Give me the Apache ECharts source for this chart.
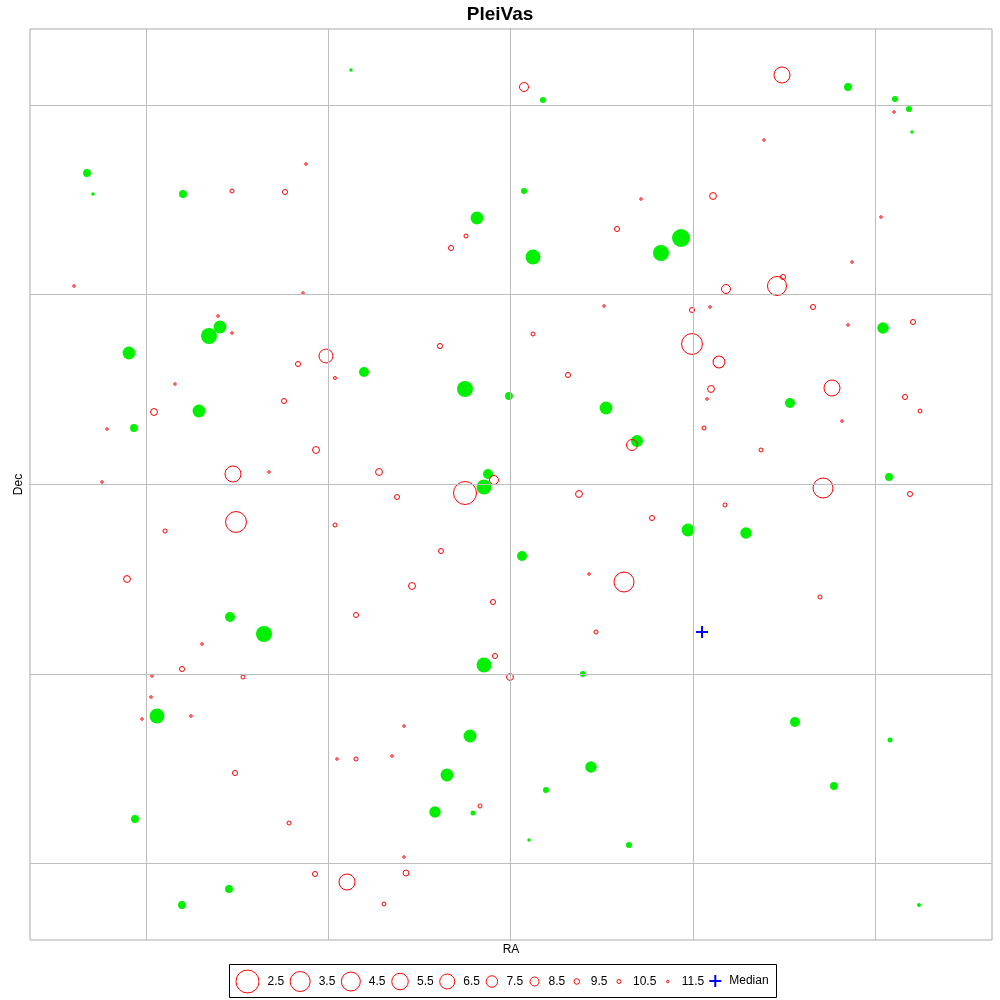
<!DOCTYPE html>
<html>
<head>
<meta charset="utf-8">
<title>PleiVas</title>
<script src="https://cdn.jsdelivr.net/npm/echarts@6/dist/echarts.min.js"></script>
<style>
  html, body { margin: 0; padding: 0; background: #fff; }
  #chart { width: 1000px; height: 1000px; }
</style>
</head>
<body>
<div id="chart"></div>
<script>
// star positions: [RA offset, Dec offset, magnitude]
// red open circles
var fieldStars = [
  [272, 409, 5.8], [14, 397, 8.5], [384, 372, 11.5], [254, 344, 11.5], [-204, 320, 11.5],
  [-278, 293, 10.5], [-225, 292, 9.8], [203, 288, 9.1], [131, 285, 11.5], [371, 267, 11.5],
  [107, 255, 9.8], [-44, 248, 10.5], [-59, 236, 9.8], [342, 222, 11.5], [273, 207, 9.8],
  [-436, 198, 11.5], [267, 198, 4.5], [216, 195, 8.5], [-207, 191, 11.5], [303, 177, 9.8],
  [94, 178, 11.5], [182, 174, 9.8], [200, 177, 11.5], [-292, 168, 11.5], [403, 162, 9.8],
  [338, 159, 11.5], [-278, 151, 11.5], [23, 150, 10.5], [182, 140, 3.2], [-70, 138, 9.8],
  [-184, 128, 6.8], [209, 122, 7.4], [-212, 120, 9.8], [58, 109, 9.8], [-175, 106, 11.2],
  [-335, 100, 11.5], [322, 96, 5.8], [201, 95, 9.1], [395, 87, 9.8], [-226, 83, 9.8],
  [197, 85, 11.5], [-356, 72, 9.1], [410, 73, 10.5], [332, 63, 11.5], [-403, 55, 11.5],
  [194, 56, 10.5], [122, 39, 7.7], [-194, 34, 9.1], [251, 34, 10.5], [-277, 10, 5.8],
  [-241, 12, 11.5], [-131, 12, 9.1], [-16, 4, 8.5], [-408, 2, 11.5], [-45, -9, 2.5],
  [313, -4, 3.5], [69, -10, 9.1], [-113, -13, 9.8], [400, -10, 9.8], [215, -21, 10.5],
  [142, -34, 9.8], [-274, -38, 3.2], [-175, -41, 10.5], [-345, -47, 10.5], [-69, -67, 9.8],
  [79, -90, 11.5], [-383, -95, 9.1], [114, -98, 3.5], [-98, -102, 9.1], [310, -113, 10.5],
  [-17, -118, 9.8], [-154, -131, 9.8], [86, -148, 10.5], [-308, -160, 11.5], [-15, -172, 9.8],
  [-328, -185, 9.8], [-358, -192, 11.5], [-267, -193, 10.5], [0, -193, 9.1], [-359, -213, 11.5],
  [-368, -235, 11.5], [-319, -232, 11.5], [-106, -242, 11.5], [-173, -275, 11.5], [-154, -275, 10.5],
  [-118, -272, 11.5], [-275, -289, 9.8], [-30, -322, 10.5], [-221, -339, 10.5], [-106, -373, 11.5],
  [-104, -389, 9.4], [-195, -390, 9.8], [-163, -398, 5.8], [-126, -420, 10.5]
];

// green filled circles
var memberStars = [
  [-159, 414, 11.5], [338, 397, 9.1], [33, 384, 9.8], [385, 385, 9.8], [399, 375, 9.8],
  [402, 352, 11.5], [-423, 311, 9.1], [-417, 290, 11.5], [-327, 290, 9.1], [14, 293, 9.8],
  [-33, 266, 7.4], [171, 246, 5.3], [151, 231, 6.5], [23, 227, 6.8], [373, 156, 7.9],
  [-290, 157, 7.4], [-301, 148, 6.5], [-381, 131, 7.4], [-146, 112, 8.5], [-45, 95, 6.5],
  [-1, 88, 9.1], [280, 81, 8.5], [96, 76, 7.4], [-311, 73, 7.4], [-376, 56, 9.1],
  [127, 43, 7.7], [-22, 10, 8.5], [379, 7, 9.1], [-26, -3, 6.8], [178, -46, 7.4],
  [236, -49, 7.9], [12, -72, 8.5], [-280, -133, 8.5], [-246, -150, 6.5], [-26, -181, 6.8],
  [73, -190, 9.8], [-353, -232, 6.8], [285, -238, 8.5], [-40, -252, 7.4], [380, -256, 10.5],
  [81, -283, 7.9], [-63, -291, 7.4], [324, -302, 9.1], [36, -306, 9.8], [-75, -328, 7.9],
  [-37, -329, 10.5], [-375, -335, 9.1], [19, -356, 11.5], [119, -361, 9.8], [-281, -405, 9.1],
  [-328, -421, 9.1], [409, -421, 11.2]
];

var median = [[192, -148]];

// coordinate grid lines
var gridRA = [-364, -182, 0, 183, 365];
var gridDec = [379, 190, 0, -190, -379];

// legend magnitudes
var magLevels = [2.5, 3.5, 4.5, 5.5, 6.5, 7.5, 8.5, 9.5, 10.5, 11.5];

// symbol diameter for each legend magnitude
var SIZE_STEPS = [24, 21, 20, 17.5, 16, 12.5, 10, 6.5, 5, 3.5];

var FONT = 'Liberation Sans, Arial, sans-serif';

function sizeOf(mag) {
  if (mag <= magLevels[0]) return SIZE_STEPS[0];
  var n = magLevels.length;
  if (mag >= magLevels[n - 1]) return SIZE_STEPS[n - 1];
  for (var i = 0; i < n - 1; i++) {
    if (mag <= magLevels[i + 1]) {
      var t = (mag - magLevels[i]) / (magLevels[i + 1] - magLevels[i]);
      return SIZE_STEPS[i] + t * (SIZE_STEPS[i + 1] - SIZE_STEPS[i]);
    }
  }
  return SIZE_STEPS[n - 1];
}

// circle of diameter d centred in a w x 24 box (corner moves fix the box size)
function circleIcon(d, w) {
  var r = d / 2 - 0.5;
  var cx = w / 2;
  return 'path://M0,0M' + w + ',24M' + (cx - r) + ',12a' + r + ',' + r + ' 0 1 0 ' + (2 * r) + ',0a' +
    r + ',' + r + ' 0 1 0 ' + (-2 * r) + ',0Z';
}

var plusSymbol = 'path://M0,5H12V7H0ZM5,0H7V12H5Z';
var plusIcon = 'path://M0,0M12,24M0,11H12V13H0ZM5,6H7V18H5Z';

var openStyle = { color: 'rgba(0,0,0,0)', borderColor: '#ff0000', borderWidth: 1, opacity: 1 };

// legend entries laid out one after another, each icon box as wide as its symbol
var measure = document.createElement('canvas').getContext('2d');
measure.font = '12px "Liberation Sans"';

var legendItems = magLevels.map(function (m, i) {
  var d = SIZE_STEPS[i];
  var w = Math.max(Math.ceil(d), 12);
  return { name: m.toFixed(1), w: w, icon: circleIcon(d, w), itemStyle: openStyle };
});
legendItems.push({ name: 'Median', w: 12, icon: plusIcon, itemStyle: { color: '#0000ff', borderWidth: 0, opacity: 1 } });

var textGap = 8, afterGap = 5.5;
var totalW = 0;
legendItems.forEach(function (it, i) {
  it.offset = totalW;
  it.textW = measure.measureText(it.name).width;
  totalW += it.w + textGap + it.textW + (i < legendItems.length - 1 ? afterGap : 0);
});
var legendLeft = Math.round(502 - totalW / 2);
var legendTop = 969;

var legends = legendItems.map(function (it) {
  return {
    data: [{ name: it.name, icon: it.icon, itemStyle: it.itemStyle }],
    left: legendLeft + it.offset,
    top: legendTop,
    itemWidth: it.w,
    itemHeight: 24,
    itemGap: 0,
    padding: 0,
    selectedMode: false,
    textStyle: { color: '#000', fontSize: 12, fontFamily: FONT, padding: [0, 0, 0, textGap - 5] }
  };
});

var series = [
  {
    name: 'grid',
    type: 'scatter',
    data: [],
    silent: true,
    z: 1,
    markLine: {
      silent: true,
      symbol: 'none',
      animation: false,
      label: { show: false },
      lineStyle: { color: '#bdbdbd', type: 'solid', width: 1, opacity: 1 },
      emphasis: { disabled: true },
      data: gridRA.map(function (v) { return { xAxis: v }; })
        .concat(gridDec.map(function (v) { return { yAxis: v }; }))
    }
  },
  {
    name: 'field',
    type: 'scatter',
    z: 3,
    data: fieldStars,
    symbol: 'circle',
    symbolSize: function (val) { return sizeOf(val[2]) - 1; },
    itemStyle: openStyle,
    emphasis: { disabled: true }
  },
  {
    name: 'member',
    type: 'scatter',
    z: 2,
    data: memberStars,
    symbol: 'circle',
    symbolSize: function (val) { return sizeOf(val[2]); },
    itemStyle: { color: '#00f000', opacity: 1 },
    emphasis: { disabled: true }
  }
];

magLevels.forEach(function (m) {
  series.push({
    name: m.toFixed(1),
    type: 'scatter',
    data: [],
    itemStyle: openStyle
  });
});

series.push({
  name: 'Median',
  type: 'scatter',
  z: 4,
  data: median,
  symbol: plusSymbol,
  symbolSize: 12,
  itemStyle: { color: '#0000ff', opacity: 1 },
  emphasis: { disabled: true }
});

var chart = echarts.init(document.getElementById('chart'));
chart.setOption({
  animation: false,
  backgroundColor: '#ffffff',
  textStyle: { fontFamily: FONT },
  title: {
    text: 'PleiVas',
    left: 'center',
    top: 0,
    textStyle: { fontSize: 19, fontWeight: 'bold', color: '#000', fontFamily: FONT }
  },
  grid: {
    left: 30, right: 8, top: 29, bottom: 60,
    show: true,
    borderColor: '#aaaaaa',
    borderWidth: 1
  },
  xAxis: {
    type: 'value',
    min: -480,
    max: 482,
    name: 'RA',
    nameLocation: 'middle',
    nameGap: 4,
    nameTextStyle: { color: '#000', fontSize: 12 },
    axisLine: { show: true, lineStyle: { color: '#999999' } },
    axisTick: { show: false },
    axisLabel: { show: false },
    splitLine: { show: false }
  },
  yAxis: {
    type: 'value',
    min: -456,
    max: 455,
    name: 'Dec',
    nameLocation: 'middle',
    nameGap: 5,
    nameTextStyle: { color: '#000', fontSize: 12 },
    axisLine: { show: true, lineStyle: { color: '#808080' } },
    axisTick: { show: false },
    axisLabel: { show: false },
    splitLine: { show: false }
  },
  legend: legends,
  graphic: [{
    type: 'rect',
    silent: true,
    z: 10,
    shape: { x: legendLeft - 5.5, y: legendTop - 4.5, width: Math.round(totalW + 13), height: 33 },
    style: { fill: 'none', stroke: '#000', lineWidth: 1 }
  }],
  series: series
});
</script>
</body>
</html>
